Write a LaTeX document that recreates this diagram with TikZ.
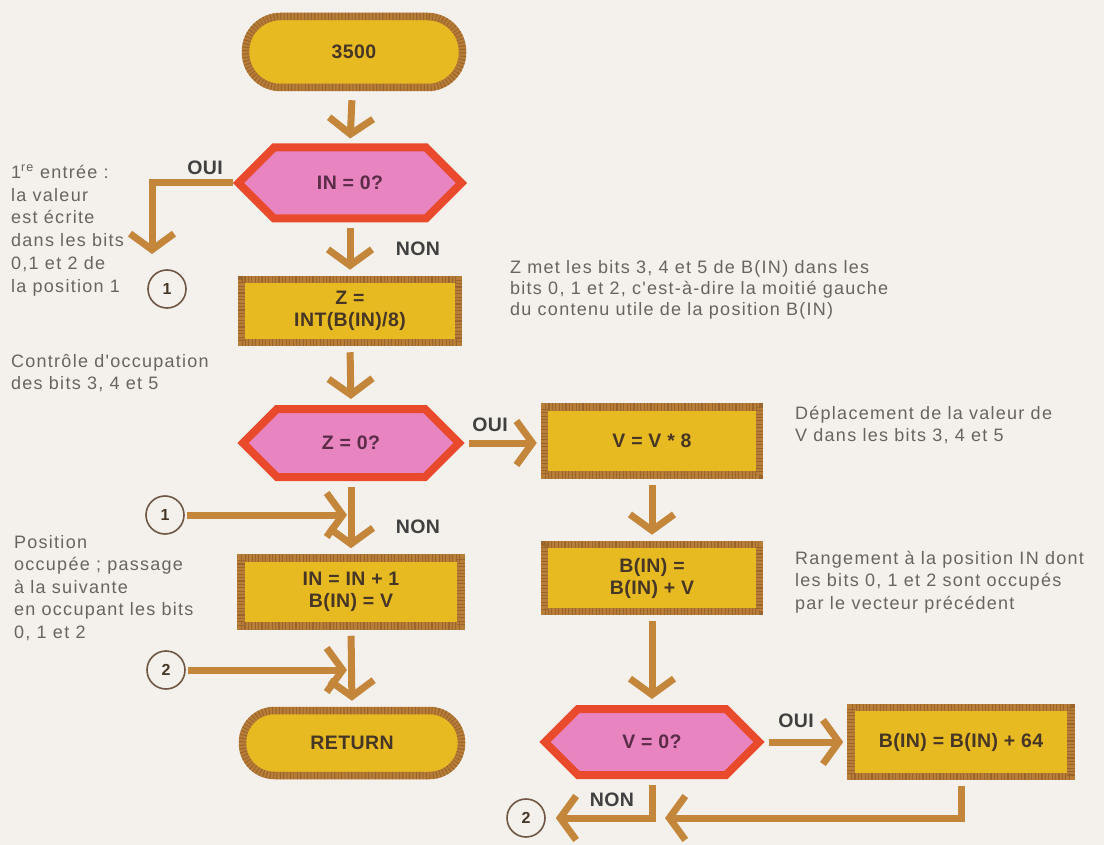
\documentclass[tikz,border=0pt]{standalone}
\usepackage{fontspec}
\setmainfont{Liberation Sans}
\newfontfamily\notefont[LetterSpace=7]{Liberation Sans}
\newfontfamily\labfont[LetterSpace=2]{Liberation Sans}
\usetikzlibrary{shapes.symbols,arrows.meta,calc}

\definecolor{paper}{RGB}{244,241,236}
\definecolor{gold}{RGB}{232,186,34}
\definecolor{rope}{RGB}{184,126,56}
\definecolor{ropedark}{RGB}{132,84,36}
\definecolor{pinkfill}{RGB}{232,132,192}
\definecolor{redline}{RGB}{234,74,44}
\definecolor{arrowc}{RGB}{196,134,58}
\definecolor{notegray}{RGB}{104,100,96}
\definecolor{inkbrown}{RGB}{70,54,38}
\definecolor{inkplum}{RGB}{90,44,72}
\definecolor{ringc}{RGB}{112,86,68}

\tikzset{
  ropeline/.style={draw=rope, line width=7.5pt,
    postaction={draw=ropedark, draw opacity=0.55, line width=7.5pt, dash pattern=on 1.1pt off 2.3pt}},
  procbox/.style={rectangle, fill=gold, ropeline, inner sep=0pt, align=center,
    font=\labfont\bfseries\fontsize{19.5}{22}\selectfont, text=inkbrown},
  terminal/.style={procbox, rounded corners=35pt},
  decision/.style={signal, signal to=west and east, signal pointer angle=90,
    fill=pinkfill, draw=redline, line width=8pt, inner sep=0pt,
    font=\labfont\bfseries\fontsize{19.5}{22}\selectfont, text=inkplum},
  ring/.style={circle, draw=ringc, line width=1.6pt, fill=paper, minimum size=38pt,
    inner sep=0pt, font=\labfont\bfseries\fontsize{16}{18}\selectfont, text=inkbrown},
  flow/.style={draw=arrowc, line width=7pt,
    -{Straight Barb[length=16pt,width=44pt,line width=7pt]}},
  answer/.style={font=\labfont\bfseries\fontsize{19.5}{21}\selectfont, text=black!75, inner sep=0pt},
  % notes are placed by the baseline of their last line
  note/.style={anchor=base west, inner sep=0pt, align=left, text=notegray,
    font=\notefont\fontsize{18}{22}\selectfont},
}

\begin{document}
\begin{tikzpicture}[x=1pt,y=-1pt]
\useasboundingbox (0,0) rectangle (1104,845);
\fill[paper] (0,0) rectangle (1104,845);

% main column
\node[terminal, minimum width=217pt, minimum height=71pt] (start) at (354,52) {3500};
\node[decision, minimum width=223pt, minimum height=71pt] (q1) at (350,183) {IN = 0?};
\node[procbox, minimum width=217pt, minimum height=63pt] (zbox) at (350,311) {Z =\\INT(B(IN)/8)};
\node[decision, minimum width=216pt, minimum height=68pt] (q2) at (351,443) {Z = 0?};
\node[procbox, minimum width=220pt, minimum height=68pt] (inbox) at (351,592) {IN = IN + 1\\B(IN) = V};
\node[terminal, minimum width=219pt, minimum height=65pt, rounded corners=32pt] (ret) at (352,743) {RETURN};

% right column
\node[procbox, minimum width=215pt, minimum height=68pt] (v8) at (652,441) {V = V * 8};
\node[procbox, minimum width=215pt, minimum height=67pt] (bbox) at (652,578) {B(IN) =\\B(IN) + V};
\node[decision, minimum width=214pt, minimum height=66pt] (q3) at (652,742) {V = 0?};
\node[procbox, minimum width=220pt, minimum height=69pt] (b64) at (961,742) {B(IN) = B(IN) + 64};

% connector circles
\node[ring] (c1a) at (167,289) {1};
\node[ring] (c1b) at (165,515) {1};
\node[ring] (c2a) at (166,670) {2};
\node[ring] (c2b) at (526,818) {2};
\coordinate (t1) at (152,254);

% flow arrows
\draw[flow, shorten <=9pt, shorten >=5pt] (start) -- (q1.north);
\draw[flow, shorten <=6pt, shorten >=6pt] (q1.south) -- (zbox.north);
\draw[flow, shorten <=6pt, shorten >=6pt] (zbox.south) -- (q2.north);
\draw[flow, shorten <=6pt, shorten >=6pt] (q2.south) -- (inbox.north);
\draw[flow, shorten <=6pt, shorten >=6pt] (inbox.south) -- (ret.north);
\draw[flow, shorten <=4pt, shorten >=4pt] (q2.east) -- (q2.east -| v8.west);
\draw[flow, shorten <=6pt, shorten >=6pt] (v8.south) -- (bbox.north);
\draw[flow, shorten <=6pt, shorten >=6pt] (bbox.south) -- (q3.north);
\draw[flow, shorten <=4pt, shorten >=4pt] (q3.east) -- (b64.west);
\draw[flow] (q1.west) -| (t1);
\draw[flow, shorten <=2pt, shorten >=4pt] (c1b.east) -- (c1b -| q2.south);
\draw[flow, shorten <=2pt, shorten >=4pt] (c2a.east) -- (c2a -| inbox.south);
\draw[flow, shorten <=6pt, shorten >=10pt] (q3.south) |- (c2b.east);
\coordinate (j2) at ($(q3.south |- c2b)+(13,0)$);
\draw[flow, shorten <=6pt] (b64.south) |- (j2);

% branch labels
\node[answer] (l1) at (205,168) {OUI};
\node[answer] (l2) at (418,249) {NON};
\node[answer] (l3) at (490,425) {OUI};
\node[answer] (l4) at (418,527) {NON};
\node[answer] (l5) at (796,721) {OUI};
\node[answer] (l6) at (612,800) {NON};

% side notes
\node[note, font=\notefont\fontsize{18}{23}\selectfont] (n1) at (11,293)
  {1\textsuperscript{re} entrée :\\la valeur\\est écrite\\dans les bits\\0,1 et 2 de\\la position 1};
\node[note] (n2) at (11,389) {Contrôle d'occupation\\des bits 3, 4 et 5};
\node[note, font=\notefont\fontsize{18}{22.5}\selectfont] (n3) at (14,638)
  {Position\\occupée ; passage\\à la suivante\\en occupant les bits\\0, 1 et 2};
\node[note, font=\notefont\fontsize{18}{21}\selectfont] (n4) at (510,316)
  {Z met les bits 3, 4 et 5 de B(IN) dans les\\bits 0, 1 et 2, c'est-à-dire la moitié gauche\\du contenu utile de la position B(IN)};
\node[note] (n5) at (795,441) {Déplacement de la valeur de\\V dans les bits 3, 4 et 5};
\node[note, font=\notefont\fontsize{18}{22.5}\selectfont] (n6) at (795,609)
  {Rangement à la position IN dont\\les bits 0, 1 et 2 sont occupés\\par le vecteur précédent};
\end{tikzpicture}
\end{document}
